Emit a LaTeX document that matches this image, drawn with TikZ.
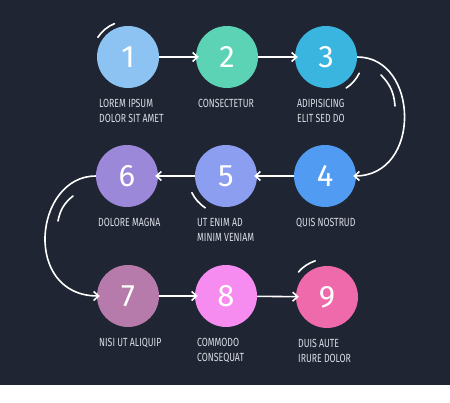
\documentclass[tikz,border=0pt]{standalone}
\usepackage{fontspec}
\setmainfont{Fira Sans}
\newfontfamily\stepfont[FakeStretch=0.74]{Fira Sans}
\usetikzlibrary{arrows.meta}

\definecolor{bgdark}{HTML}{1F2532}
\definecolor{labelgray}{HTML}{D9DDE5}
\definecolor{stepA}{HTML}{8DC3F2}
\definecolor{stepB}{HTML}{5DD3B6}
\definecolor{stepC}{HTML}{3AB5E0}
\definecolor{stepD}{HTML}{519CF2}
\definecolor{stepE}{HTML}{8B9EF0}
\definecolor{stepF}{HTML}{9C88D8}
\definecolor{stepG}{HTML}{B67BAB}
\definecolor{stepH}{HTML}{F78CF0}
\definecolor{stepI}{HTML}{EE6AAB}

\tikzset{
  stepdot/.style={circle, minimum size=62pt, inner sep=0pt, text=white,
    font=\fontsize{31}{31}\selectfont},
  steptext/.style={anchor=north west, align=left, inner sep=0pt, text=labelgray,
    font=\stepfont\fontsize{11.8}{15}\selectfont},
  flow/.style={white, line width=1.6pt, shorten >=-3pt,
    -{Straight Barb[length=5pt,width=9pt]}},
  swoosh/.style={white, line width=1.6pt, line cap=round},
}

\begin{document}
\begin{tikzpicture}[x=1pt,y=1pt]
    \useasboundingbox (0,0) rectangle (450,403);
    % Background
    \fill[white] (0,0) rectangle (450,403);
    \fill[bgdark] (0,18) rectangle (450,403);

    % Steps and their captions
    \foreach \n/\x/\y/\c/\t in {
        1/128/346/stepA/{LOREM IPSUM\\DOLOR SIT AMET},
        2/227/346/stepB/{CONSECTETUR},
        3/326/346/stepC/{ADIPISICING\\ELIT SED DO},
        4/325/227/stepD/{QUIS NOSTRUD},
        5/226/227/stepE/{UT ENIM AD\\MINIM VENIAM},
        6/127/227/stepF/{DOLORE MAGNA},
        7/128/107/stepG/{NISI UT ALIQUIP},
        8/226/107/stepH/{COMMODO\\CONSEQUAT},
        9/327/106/stepI/{DUIS AUTE\\IRURE DOLOR}} {
        \node[stepdot, fill=\c] (c\n) at (\x,\y) {\n};
        \node[steptext] (t\n) at ({\x-29},{\y-42}) {\t};
    }

    % Straight connectors
    \draw[flow] (c1) -- (c2);
    \draw[flow] (c2) -- (c3);
    \draw[flow] (c4) -- (c5);
    \draw[flow] (c5) -- (c6);
    \draw[flow] (c7) -- (c8);
    \draw[flow] (c8) -- (c9);

    % Turns between rows
    \draw[flow] (c3.east) .. controls +(62,0) and +(66,0) .. (c4.east);
    \draw[flow] (c6.west) .. controls +(-62,0) and +(-75,0) .. (c7.west);

    % Small swooshes
    \draw[swoosh] (c1.center) ++(112:36) arc (112:147:36);
    \draw[swoosh] (c3.center) ++(-57:37) arc (-57:-26:37);
    \draw[swoosh] (c5.center) ++(206:38) arc (206:237:38);
    \draw[swoosh] (c9.center) ++(108:38) arc (108:139:38);
    \draw[swoosh] ([shift={(55,-18)}]c3.center) to[bend left=20] ([shift={(69,-49)}]c3.center);
    \draw[swoosh] ([shift={(-54,-20)}]c6.center) to[bend right=20] ([shift={(-69,-45)}]c6.center);
\end{tikzpicture}
\end{document}
